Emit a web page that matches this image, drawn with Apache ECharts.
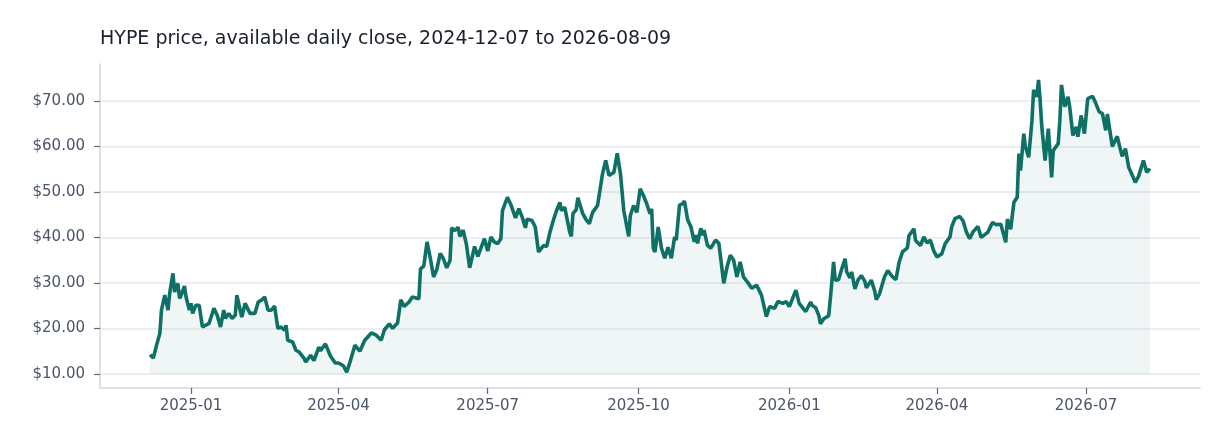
<!DOCTYPE html>
<html>
<head>
<meta charset="utf-8">
<script src="https://cdn.jsdelivr.net/npm/echarts@6/dist/echarts.min.js"></script>
<style>
html,body{margin:0;padding:0;background:#fff;}
#chart{width:1232px;height:448px;}
</style>
</head>
<body>
<div id="chart"></div>
<script>
const startDate = [2024, 11, 7];
const dayIndex = [
  0,2,4,6,7,8,9,11,12,14,15,17,18,19,21,22,24,25,26,28,30,32,36,39,41,43,45,46,48,50,52,53,55,56,58,61,64,66,68,70,72,74,76,78,80,82,83,84,87,89,91,94,95,98,
  100,103,104,107,110,113,115,118,120,122,125,128,131,135,138,141,143,146,148,151,153,155,158,160,164,165,167,169,171,173,175,177,179,181,183,184,186,188,189,191,193,195,198,
  200,204,206,208,210,212,214,215,218,220,223,225,227,229,230,233,235,237,240,242,244,246,248,250,251,253,256,257,258,260,261,264,266,268,270,273,276,278,280,283,285,287,289,292,293,295,297,299,
  301,303,305,306,307,308,310,312,314,316,318,320,321,323,325,326,328,330,332,333,334,336,337,338,340,342,345,347,350,352,354,356,358,360,362,365,367,370,373,376,378,381,383,386,388,390,394,396,
  400,403,404,406,408,409,411,414,415,417,418,420,422,424,425,427,428,430,432,434,436,437,440,442,443,445,446,448,450,453,455,457,459,462,463,466,467,470,472,474,476,478,480,483,485,488,489,491,494,496,498,
  500,502,505,507,511,514,516,519,522,523,525,527,529,530,531,533,534,536,538,539,541,542,543,544,546,548,550,551,554,555,556,558,560,561,563,565,566,568,570,572,575,577,579,581,583,584,587,588,590,593,595,597,599,
  601,603,606,608,610
];
const closeUsd = [
  14.2,13.5,16.3,18.9,24.0,24.4,27.3,24.0,27.7,32.1,28.0,29.9,26.6,27.3,29.3,26.9,24.0,25.5,23.3,25.1,25.1,20.3,21.1,24.4,22.9,20.3,24.0,22.2,23.3,22.2,22.9,27.3,24.0,22.5,25.5,23.3,23.3,25.8,26.2,26.9,24.0,24.0,24.9,20.0,20.3,19.6,20.7,17.4,17.0,15.2,14.8,13.4,12.6,14.1,
  12.9,15.9,15.1,16.6,14.0,12.4,12.4,11.8,10.4,12.6,16.3,15.0,17.4,19.0,18.5,17.4,19.7,21.0,20.0,21.2,26.3,24.8,25.8,26.9,26.5,33.1,33.7,39.0,35.4,31.3,33.0,36.5,35.3,33.3,34.9,42.1,41.5,42.2,40.2,41.6,38.5,33.3,38.0,
  35.8,39.7,37.0,40.1,39.0,38.6,39.7,45.9,48.8,47.3,44.3,46.3,44.5,42.1,44.0,43.7,42.3,36.8,38.2,38.0,41.2,43.7,45.9,47.7,45.9,46.6,41.2,40.2,45.2,46.1,48.7,45.2,43.9,43.0,45.5,47.0,53.9,56.9,53.6,54.3,58.5,53.9,45.9,40.2,44.8,47.0,45.5,50.7,
  49.2,47.4,45.2,46.3,37.6,36.8,42.3,37.6,35.4,37.8,35.4,40.1,39.4,47.1,47.4,48.0,43.8,42.3,39.0,40.5,38.7,42.0,40.5,41.6,38.3,37.6,39.4,38.7,29.9,33.5,36.1,35.0,31.3,34.6,31.3,29.9,28.8,29.5,27.3,22.6,24.8,24.4,25.9,25.5,25.9,24.8,28.4,25.5,
  23.7,25.8,25.0,24.6,22.8,21.0,22.1,22.8,26.5,34.6,30.6,30.7,33.1,35.3,32.4,31.1,32.4,28.7,30.7,31.6,30.4,28.9,30.6,28.3,26.3,27.6,27.9,31.3,32.7,31.3,30.7,34.6,36.8,37.7,40.4,41.9,39.3,38.2,40.1,38.8,39.4,37.1,35.7,36.4,38.6,40.1,42.3,44.1,44.6,43.6,41.2,
  39.7,41.2,42.4,40.0,41.1,43.3,42.8,42.9,38.9,44.0,41.8,47.7,48.8,58.4,54.7,62.8,59.9,57.6,65.7,72.4,70.9,74.6,70.1,64.3,56.9,63.9,53.2,59.1,60.6,65.7,73.5,68.7,70.9,68.7,62.4,64.3,62.1,66.8,62.8,70.5,71.0,69.4,67.6,67.2,63.5,67.1,60.0,59.9,62.2,57.8,59.5,55.4,53.8,
  52.1,53.4,56.9,54.3,55.1
];
const titleText = 'HYPE price, available daily close, 2024-12-07 to 2026-08-09';
const yMin = 6.9, yMax = 78.1;

const toTime = d => new Date(startDate[0], startDate[1], startDate[2] + d).getTime();
const seriesData = dayIndex.map((d, i) => [toTime(d), closeUsd[i]]);
const t0 = seriesData[0][0], t1 = seriesData[seriesData.length - 1][0];
const pad = (t1 - t0) * 0.05;

const chart = echarts.init(document.getElementById('chart'), null, {renderer: 'canvas'});
const font = 'DejaVu Sans';
chart.setOption({
  animation: false,
  backgroundColor: '#ffffff',
  textStyle: {fontFamily: font},
  title: {
    text: titleText,
    left: 100, top: 30, padding: 0,
    textStyle: {fontFamily: font, fontSize: 19, fontWeight: 'normal', color: '#1a202c'}
  },
  grid: {left: 100, right: 32, top: 64, bottom: 60, containLabel: false},
  xAxis: {
    type: 'time',
    min: t0 - pad, max: t1 + pad,
    splitNumber: 7,
    axisLine: {show: true, lineStyle: {color: '#d2d6de', width: 1.5}},
    axisTick: {show: true, length: 6, lineStyle: {color: '#5f6876', width: 1.2}},
    splitLine: {show: false},
    axisLabel: {
      color: '#4a5568', fontSize: 15, fontFamily: font, margin: 11,
      formatter: v => echarts.time.format(v, '{yyyy}-{MM}', false),
      hideOverlap: false
    }
  },
  yAxis: {
    type: 'value',
    min: yMin, max: yMax,
    axisLine: {show: true, lineStyle: {color: '#d2d6de', width: 1.5}},
    axisTick: {show: true, length: 6, lineStyle: {color: '#5f6876', width: 1.2}},
    splitLine: {show: true, showMinLine: false, showMaxLine: false, lineStyle: {color: '#e6e8ee', width: 1.5}},
    axisLabel: {
      color: '#4a5568', fontSize: 15, fontFamily: font, margin: 15,
      showMinLabel: false, showMaxLabel: false,
      formatter: v => '$' + v.toFixed(2)
    }
  },
  series: [{
    type: 'line',
    data: seriesData,
    showSymbol: false,
    symbol: 'none',
    lineStyle: {color: '#0f7066', width: 3.6},
    itemStyle: {color: '#0f7066'},
    areaStyle: {color: 'rgba(15,112,102,0.09)', origin: 10}
  }]
});
</script>
</body>
</html>
